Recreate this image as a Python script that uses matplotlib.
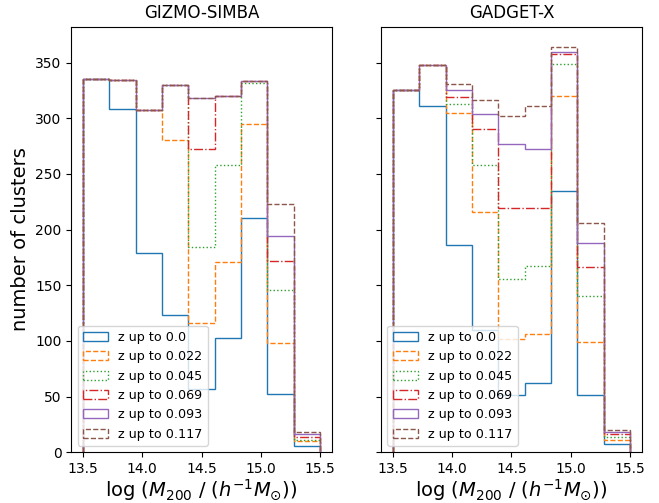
import numpy as np
from matplotlib import pyplot as plt

edges = np.linspace(13.5, 15.5, 10)
labels = ['z up to 0.0', 'z up to 0.022', 'z up to 0.045',
          'z up to 0.069', 'z up to 0.093', 'z up to 0.117']
styles = ['-', '--', ':', '-.', '-', '--']

gizmo = [
    [335, 308, 179, 123, 57, 103, 210, 52, 6],
    [335, 334, 307, 280, 116, 171, 295, 98, 10],
    [335, 334, 307, 330, 184, 258, 332, 146, 11],
    [335, 334, 307, 330, 272, 320, 333, 172, 14],
    [335, 334, 307, 330, 318, 320, 333, 194, 16],
    [335, 334, 307, 330, 318, 320, 333, 223, 18],
]
gadget = [
    [325, 311, 186, 110, 51, 62, 235, 51, 7],
    [325, 348, 305, 216, 102, 106, 320, 99, 11],
    [325, 348, 313, 258, 156, 167, 349, 140, 14],
    [325, 348, 319, 290, 219, 219, 358, 166, 16],
    [325, 348, 325, 304, 277, 272, 359, 188, 18],
    [325, 348, 331, 316, 302, 311, 364, 206, 20],
]

centers = 0.5 * (edges[1:] + edges[:-1])

fig, axes = plt.subplots(1, 2, sharey=True, figsize=(6.59, 5.03), dpi=100)
fig.subplots_adjust(left=0.108, right=0.974, bottom=0.101, top=0.947, wspace=0.188)

for ax, counts, title in zip(axes, [gizmo, gadget], ['GIZMO-SIMBA', 'GADGET-X']):
    for i in range(len(labels)):
        ax.hist(centers, bins=edges, weights=counts[i], histtype='step',
                linestyle=styles[i], color='C%d' % i, label=labels[i])
    ax.set_title(title)
    ax.set_xticks([13.5, 14.0, 14.5, 15.0, 15.5])
    ax.set_xlabel(r'log $(M_{200}$ / $(h^{-1}M_{\odot}))$', fontsize=14, labelpad=1)
    ax.legend(loc='lower left', fontsize=9.2)

axes[0].set_ylabel('number of clusters', fontsize=14)

plt.savefig('out.png')
